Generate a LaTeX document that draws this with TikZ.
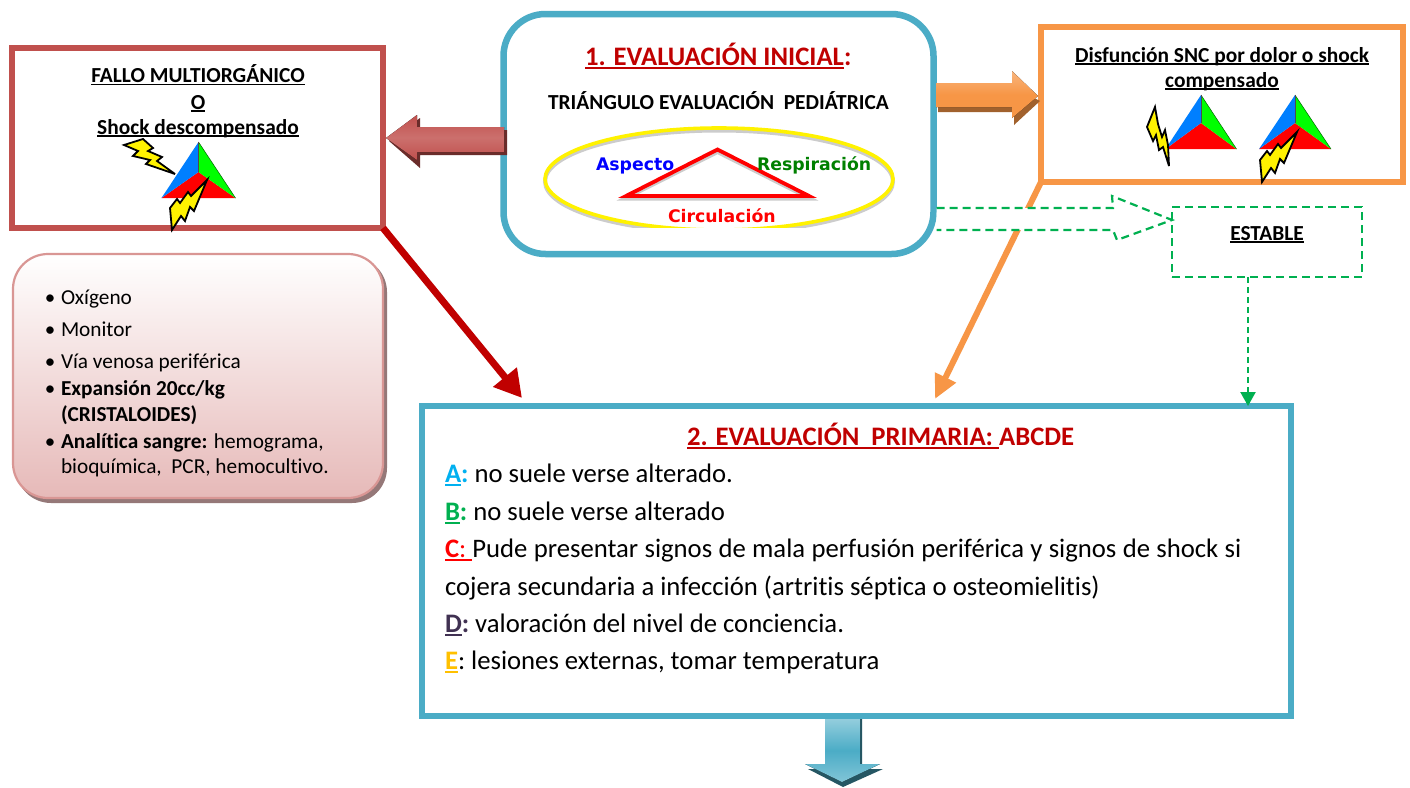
\documentclass[tikz,border=0pt]{standalone}
\usepackage{fontspec}
\setmainfont[Ligatures=NoCommon]{Carlito}
\newfontfamily\vfont{DejaVu Sans}
\usetikzlibrary{arrows.meta,calc}
\definecolor{cblue}{HTML}{4BACC6}
\definecolor{cred}{HTML}{C0504D}
\definecolor{corange}{HTML}{F79646}
\definecolor{dred}{HTML}{C00000}
\definecolor{cgreen}{HTML}{00B050}
\definecolor{tblue}{HTML}{007FFF}
\definecolor{pinkb}{HTML}{D99694}
\definecolor{pinkf}{HTML}{E6B9B8}
\definecolor{cpurple}{HTML}{403152}
\definecolor{cyel}{HTML}{FFC000}
\definecolor{csky}{HTML}{00B0F0}
\newcommand\fs[1]{\fontsize{#1}{#1}\selectfont}
\newcommand\ulx[1]{\leavevmode\setbox0=\hbox{#1}\rlap{\raisebox{-0.14em}{\rule{\wd0}{0.075em}}}\box0}
\tikzset{
  x=1pt,y=-1pt,
  lbl/.style={inner sep=0pt,outer sep=0pt,anchor=base west,yshift=-1pt},
  lblc/.style={inner sep=0pt,outer sep=0pt,anchor=base,yshift=-1pt},
  boxn/.style={inner sep=0pt,outer sep=0pt,fill=white},
  smalltxt/.style={font=\fs{21.3}},
  hdr/.style={font=\fs{21.4}\bfseries},
  bodytxt/.style={font=\fs{26.7}},
  tagtxt/.style={font=\vfont\fs{17.3}\bfseries},
  bolt/.style={fill=yellow,draw=black,line width=1.8pt,line join=miter,miter limit=6},
}
% triangle icon: apex x, apex y, half width, height, centre drop
\newcommand\triicon[5]{%
  \fill[red] (#1-#3,#2+#4) -- (#1,#2+#5) -- (#1+#3,#2+#4) -- cycle;
  \fill[tblue] (#1,#2) -- (#1,#2+#5) -- (#1-#3,#2+#4) -- cycle;
  \fill[green] (#1,#2) -- (#1,#2+#5) -- (#1+#3,#2+#4) -- cycle;
  \draw[black!60!green,line width=.5pt] (#1,#2) -- (#1+#3,#2+#4);
  \draw[black!70,line width=.6pt] (#1,#2) -- (#1,#2+#5);
}
\newcommand\boltA[2]{\draw[bolt,shift={(#1,#2)}] (124,145) -- (143,139) -- (153,148) -- (148,151) -- (162,157) -- (157,161) -- (175,174) -- (146,164) -- (150,160) -- (133,156) -- (138,151) -- cycle;}
\newcommand\boltB[2]{\draw[bolt,shift={(#1,#2)}] (207,180) -- (194,211) -- (190,207) -- (185,221) -- (181,216) -- (172,230) -- (170,208) -- (177,199) -- (180,203) -- (188,192) -- (191,196) -- cycle;}
\begin{document}
\begin{tikzpicture}
\useasboundingbox (0,0) rectangle (1410,787);
\fill[white] (0,0) rectangle (1410,787);

% main boxes
\node[boxn,draw=cred,line width=6.5pt,minimum width=371pt,minimum height=180pt] (fallo) at (197.5,138) {};
\node[boxn,draw=corange,line width=6pt,minimum width=362pt,minimum height=155pt] (disf) at (1222,104.5) {};
\node[boxn,draw=cblue,line width=6.5pt,rounded corners=42pt,minimum width=430pt,minimum height=240pt] (ini) at (718.5,134) {};
\node[boxn,draw=cblue,line width=6pt,minimum width=869pt,minimum height=310pt] (prim) at (856.5,561) {};
\node[boxn,draw=cgreen,dashed,dash pattern=on 8pt off 5pt,line width=2.4pt,minimum width=190pt,minimum height=70pt] (est) at (1267,242) {};

% left list box
\fill[black!35!pinkf] (16,257) [rounded corners=35pt] -- (387,257) -- (387,503) -- (16,503) -- cycle;
\node[inner sep=0pt,outer sep=0pt,draw=pinkb,line width=2.2pt,rounded corners=35pt,top color=white,bottom color=pinkf,minimum width=370pt,minimum height=244pt] (lista) at (198,376) {};

% connectors
\coordinate (r1) at (522,398);
\coordinate (o1) at (935,399);
\coordinate (g0) at ($(est.south)+(-19,0)$);
\draw[dred,line width=7pt,-{Triangle[length=27pt,width=29pt]}] (fallo.south east) -- (r1);
\draw[corange,line width=6pt,-{Triangle[length=24pt,width=22pt]}] (disf.south west) -- (o1);
\draw[cgreen,dashed,dash pattern=on 6pt off 4pt,line width=2.2pt,-{Triangle[length=14pt,width=15pt]}] (g0) -- (g0 |- prim.north);

% block arrow red
\fill[black!45!cred] (507,130) -- (507,155) -- (420,155) -- (420,168) -- (389,141) -- (420,118) -- (420,130) -- cycle;
\fill[top color=cred,bottom color=cred,middle color=cred!82!white] (504,127) -- (504,152) -- (417,152) -- (417,160) -- (386,138) -- (417,115) -- (417,127) -- cycle;
% block arrow orange
\fill[black!35!corange] (938,88) -- (938,112) -- (1014,112) -- (1014,125) -- (1040,101) -- (1014,88) -- cycle;
\fill[top color=corange!70!white,bottom color=corange,middle color=corange] (936,83) -- (936,107) -- (1012,107) -- (1012,118) -- (1038,96) -- (1012,71) -- (1012,83) -- cycle;
% block arrow blue
\fill[black!50!cblue] (830,719) -- (862,719) -- (862,769) -- (883,769) -- (843,787) -- (808,769) -- (830,769) -- cycle;
\fill[top color=cblue!60!white,bottom color=cblue!70!white,middle color=cblue] (825,719) -- (860,719) -- (860,764) -- (880,764) -- (842,782) -- (805,764) -- (825,764) -- cycle;
% green dashed block arrow
\draw[cgreen,dashed,dash pattern=on 8pt off 5pt,line width=2.2pt,fill=white] ($(ini.east)+(3,74)$) -- (1113,208) -- (1112,196) -- (est.west |- 0,220) -- (1117,240) -- (1113,230) -- ($(ini.east)+(3,96)$);

% initial box contents
\node[lbl,text=dred,font=\fs{26.7}\bfseries] (t1) at (585,64) {\ulx{1. EVALUACIÓN INICIAL}:};
\node[lbl,hdr] (t2) at (548,108) {TRIÁNGULO EVALUACIÓN\ \ PEDIÁTRICA};
\begin{scope}
\clip (520,110) rectangle (920,227.8);
\draw[black!20,line width=4pt] (719,181.5) ellipse (174 and 51);
\draw[yellow,line width=3.6pt] (719,179) ellipse (174 and 51);
\end{scope}
\draw[black!20,line width=4pt,line join=miter] (717.5,152) -- (810,198.5) -- (625,198.5) -- cycle;
\draw[red,line width=3.8pt,line join=miter] (717.5,149.5) -- (809,196) -- (626,196) -- cycle;
\node[lbl,tagtxt,text=blue] (asp) at (596,169) {Aspecto};
\node[lbl,tagtxt,text=black!50!green] (res) at (757,169) {Respiración};
\node[lbl,tagtxt,text=red] (cir) at (668,221) {Circulación};

% fallo contents
\node[lblc,hdr] (f1) at (198,81.5) {\ulx{FALLO MULTIORGÁNICO}};
\node[lblc,hdr] (f2) at (198,108) {\ulx{O}};
\node[lblc,hdr] (f3) at (198,133) {\ulx{Shock descompensado}};
\triicon{198.5}{142}{37}{56}{30}
\boltA{0}{0}
\boltB{0}{0}

% disfuncion contents
\node[lblc,hdr] (d1) at (1222,61) {\ulx{Disfunción SNC por dolor o shock}};
\node[lblc,hdr] (d2) at (1222,86) {\ulx{compensado}};
\triicon{1201}{95}{35.5}{54}{28}
\triicon{1295}{95}{36}{54}{28}
\draw[bolt] (1155,107) -- (1147,127) -- (1153,141) -- (1156,135) -- (1159,150) -- (1163,147) -- (1169,166) -- (1168,145) -- (1165,130) -- (1162,137) -- (1158,124) -- cycle;
\boltB{1090}{-48}

\node[lblc,hdr] (e1) at (1267,239) {\ulx{ESTABLE}};

% list
\foreach \n/\yy in {a/303,b/335,c/367,d/394,e/447}
  \node[lblc,font=\fs{21}] (bu\n) at (50,\yy) {•};
\node[lbl,smalltxt] (l1) at (61,303) {Oxígeno};
\node[lbl,smalltxt] (l2) at (61,335) {Monitor};
\node[lbl,smalltxt] (l3) at (61,367) {Vía venosa periférica};
\node[lbl,smalltxt] (l4) at (61,394) {\textbf{Expansión 20cc/kg}};
\node[lbl,smalltxt] (l5) at (61,420) {\textbf{(CRISTALOIDES)}};
\node[lbl,smalltxt] (l6) at (61,447) {\textbf{Analítica sangre:} hemograma,};
\node[lbl,smalltxt] (l7) at (61,472) {bioquímica,\ \ PCR, hemocultivo.};

% primary
\node[lbl,font=\fs{26.7}\bfseries,text=dred] (p0) at (687,444) {\ulx{2. EVALUACIÓN\ \ PRIMARIA:\ }ABCDE};
\node[lbl,bodytxt] (pa) at (445,481) {\textcolor{csky}{\textbf{\ulx{A}:}}\hspace{6pt}no suele verse alterado.};
\node[lbl,bodytxt] (pb) at (445,519) {\textcolor{cgreen}{\textbf{\ulx{B}:}}\hspace{6pt}no suele verse alterado};
\node[lbl,bodytxt] (pc) at (445,556) {\textcolor{red}{\ulx{\textbf{C}:\ }}\makebox[769pt][s]{Pude presentar signos de mala perfusión periférica y signos de shock si}};
\node[lbl,bodytxt] (pc2) at (445,594) {cojera secundaria a infección (artritis séptica o osteomielitis)};
\node[lbl,bodytxt] (pd) at (445,631) {\textcolor{cpurple}{\textbf{\ulx{D}:}}\hspace{6pt}valoración del nivel de conciencia.};
\node[lbl,bodytxt] (pe) at (445,668) {\textcolor{cyel}{\textbf{\ulx{E}}}:\hspace{6pt}lesiones externas, tomar temperatura};
\end{tikzpicture}
\end{document}
